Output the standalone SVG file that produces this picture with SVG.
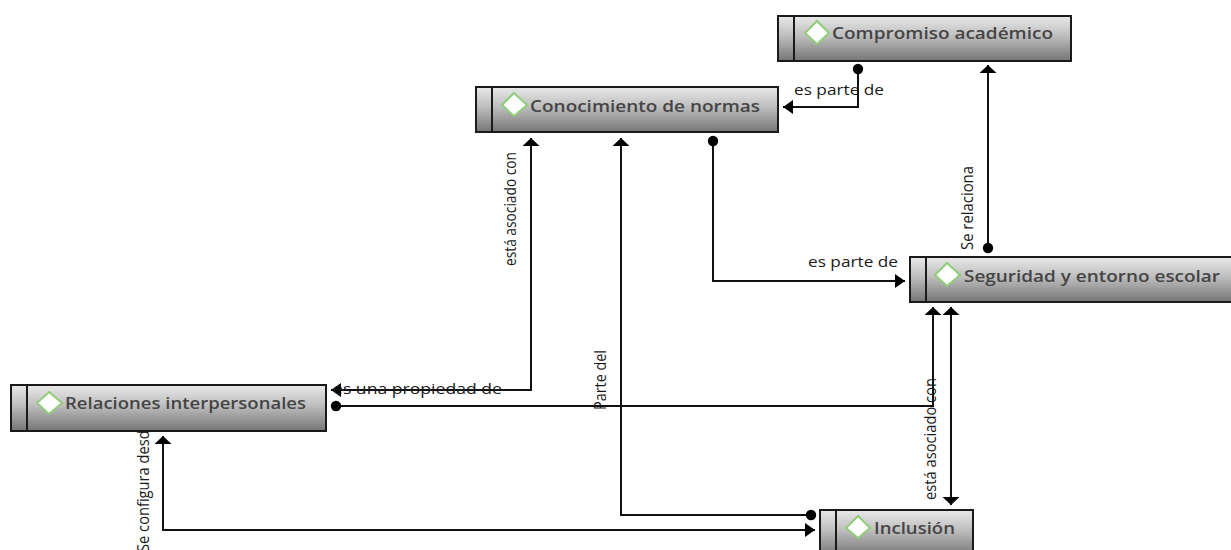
<svg xmlns="http://www.w3.org/2000/svg" width="1231" height="550" viewBox="0 0 1231 550">
<style>
.box{fill:url(#g);stroke:#1a1a1a;stroke-width:2}
.div{stroke:#1a1a1a;stroke-width:2}
.dia{fill:#fff;stroke:#8fce78;stroke-width:2}
.t{font-family:"Open Sans","Noto Sans",sans-serif;font-size:17px;font-weight:600;fill:#454545}
.l{font-family:"Open Sans","Noto Sans",sans-serif;font-size:14.5px;fill:#1a1a1a}
.c{fill:none;stroke:#111;stroke-width:2}
</style>
<defs>
<linearGradient id="g" x1="0" y1="0" x2="0" y2="1"><stop offset="0" stop-color="#e9e9e9"/><stop offset="0.45" stop-color="#bdbdbd"/><stop offset="1" stop-color="#757575"/></linearGradient>
<marker id="av" markerUnits="userSpaceOnUse" markerWidth="10" markerHeight="18" refX="8" refY="8.5" orient="auto-start-reverse"><path d="M0 0L8 8.5L0 17Z" fill="#000"/></marker>
<marker id="ah" markerUnits="userSpaceOnUse" markerWidth="12" markerHeight="16" refX="10" refY="7" orient="auto-start-reverse"><path d="M0 0L10 7L0 14Z" fill="#000"/></marker>
<marker id="o" markerUnits="userSpaceOnUse" markerWidth="12" markerHeight="12" refX="6" refY="6"><circle cx="6" cy="6" r="5.2" fill="#000"/></marker>
</defs>
<g id="connectors">
<path class="c" marker-start="url(#o)" marker-end="url(#ah)" d="M858 69V107H783"/>
<path class="c" marker-start="url(#o)" marker-end="url(#av)" d="M988 248V65"/>
<path class="c" marker-start="url(#o)" marker-end="url(#ah)" d="M713 141V281H905"/>
<path class="c" marker-start="url(#av)" marker-end="url(#ah)" d="M531 138V390H331"/>
<path class="c" marker-start="url(#o)" marker-end="url(#av)" d="M811 515H621V138"/>
<path class="c" marker-start="url(#o)" marker-end="url(#av)" d="M336 406H933V307"/>
<path class="c" marker-start="url(#av)" marker-end="url(#av)" d="M951 307V505"/>
<path class="c" marker-start="url(#av)" marker-end="url(#ah)" d="M163 436V530H815"/>
</g>
<g id="labels">
<text class="l" x="794" y="95" textLength="90" lengthAdjust="spacingAndGlyphs">es parte de</text>
<text class="l" x="808" y="267" textLength="90" lengthAdjust="spacingAndGlyphs">es parte de</text>
<text class="l" x="333" y="394" textLength="169" lengthAdjust="spacingAndGlyphs">es una propiedad de</text>
<text class="l" transform="translate(516 266) rotate(-90) scale(1 1.1)" textLength="114" lengthAdjust="spacingAndGlyphs">está asociado con</text>
<text class="l" transform="translate(973 250) rotate(-90) scale(1 1.1)" textLength="84" lengthAdjust="spacingAndGlyphs">Se relaciona</text>
<text class="l" transform="translate(606 410) rotate(-90) scale(1 1.1)" textLength="60" lengthAdjust="spacingAndGlyphs">Parte del</text>
<text class="l" transform="translate(936 500) rotate(-90) scale(1 1.1)" textLength="122" lengthAdjust="spacingAndGlyphs">está asociado con</text>
<text class="l" transform="translate(149 552) rotate(-90) scale(1 1.1)" textLength="130" lengthAdjust="spacingAndGlyphs">Se configura desde</text>
</g>
<g id="n-compromiso"><rect class="box" x="778" y="16" width="293" height="45"/><path class="div" d="M794 16V61"/><path class="dia" d="M817 21L829 33L817 44L805 33Z"/><text class="t" x="832" y="39" textLength="221" lengthAdjust="spacingAndGlyphs">Compromiso académico</text></g>
<g id="n-conocimiento"><rect class="box" x="476" y="87" width="302" height="45"/><path class="div" d="M492 87V132"/><path class="dia" d="M514 93L527 105L514 116L502 105Z"/><text class="t" x="530" y="112" textLength="230" lengthAdjust="spacingAndGlyphs">Conocimiento de normas</text></g>
<g id="n-seguridad"><rect class="box" x="910" y="257" width="322" height="45"/><path class="div" d="M926 257V302"/><path class="dia" d="M947 263L960 275L947 286L935 275Z"/><text class="t" x="964" y="282" textLength="256" lengthAdjust="spacingAndGlyphs">Seguridad y entorno escolar</text></g>
<g id="n-relaciones"><rect class="box" x="11" y="385" width="315" height="46"/><path class="div" d="M27 385V431"/><path class="dia" d="M49 392L62 403L49 414L37 403Z"/><text class="t" x="65" y="409" textLength="241" lengthAdjust="spacingAndGlyphs">Relaciones interpersonales</text></g>
<g id="n-inclusion"><rect class="box" x="820" y="510" width="153" height="46"/><path class="div" d="M836 510V556"/><path class="dia" d="M858 516L870 528L858 538L846 528Z"/><text class="t" x="874" y="534" textLength="81" lengthAdjust="spacingAndGlyphs">Inclusión</text></g>
</svg>
